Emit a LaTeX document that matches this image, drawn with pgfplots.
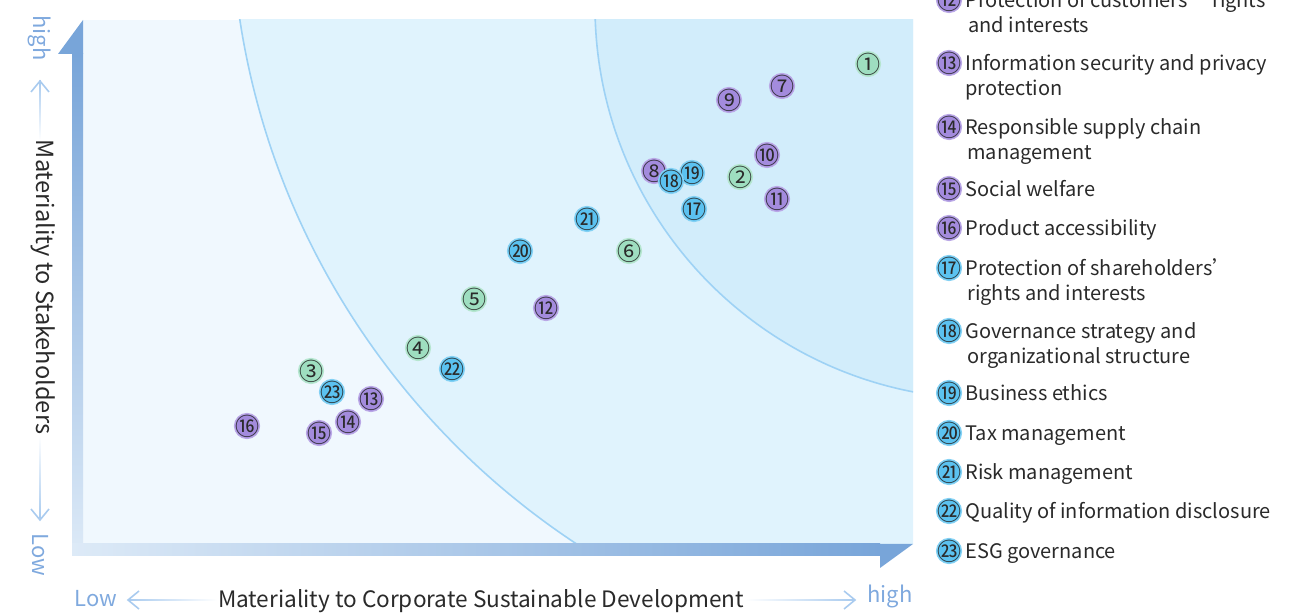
\documentclass[border=0pt]{standalone}
\usepackage{pgfplots}
\pgfplotsset{compat=1.18}
\usepackage{pgfplotstable}
\usepackage{fontspec}
\setmainfont{Noto Sans CJK SC}
\newfontfamily\cjk{Noto Sans CJK SC}
\usetikzlibrary{arrows.meta}

\definecolor{zoneA}{HTML}{F0F8FE}
\definecolor{zoneB}{HTML}{E0F3FD}
\definecolor{zoneC}{HTML}{D2EDFB}
\definecolor{arcc}{HTML}{9ED2F5}
\definecolor{barD}{HTML}{78A5D9}
\definecolor{barL}{HTML}{DDEAF7}
\definecolor{gr}{HTML}{9EDEC0}
\definecolor{pu}{HTML}{A38BDD}
\definecolor{bl}{HTML}{5BC2F0}
\definecolor{lab}{HTML}{7FA9DE}
\definecolor{arr}{HTML}{A9CBEF}
\definecolor{txt}{HTML}{2A2A2A}

\newcommand\circnum[1]{{\cjk\ifnum#1>20 \char\numexpr"3250+#1-20\relax\else\char\numexpr"245F+#1\relax\fi}}
\newcommand\apos{{\char"27}}

% pixel x, flipped pixel y (614 - py)
\pgfplotstableread{
x y n
868 550 1
740 437 2
311 243 3
418 266 4
474 315 5
629 363 6
}\green
\pgfplotstableread{
x y n
782 528 7
654 443 8
729 514 9
767 459 10
777 415 11
546 306 12
371 215 13
348 192 14
319 181 15
247 188 16
}\purple
\pgfplotstableread{
x y n
694 405 17
692 441 19
671 433 18
520 363 20
587 395 21
452 245 22
332 222 23
}\blue
\pgfplotstableread{
x y n
949 614 12
949 551 13
949 487 14
949 425 15
949 386 16
}\legpurple
\pgfplotstableread{
x y n
949 346 17
949 283 18
949 221 19
949 181 20
949 142 21
949 103 22
949 63 23
}\legblue

\newcommand\legfont{\fontsize{10}{12}\selectfont}

\begin{document}
\begin{tikzpicture}
\useasboundingbox (0,0) rectangle (655pt,307pt);
\clip (0,0) rectangle (655pt,307pt);
\begin{axis}[
  at={(41.5pt,35pt)}, anchor=south west,
  scale only axis, width=415pt, height=262pt,
  xmin=83, xmax=913, ymin=70, ymax=594,
  hide axis, clip=false,
  point meta=explicit symbolic,
  nodes near coords={\circnum{\pgfplotspointmeta}},
  nodes near coords align=center,
  every node near coord/.append style={font=\fontsize{12}{12}\selectfont, text=txt, inner sep=0pt},
  mymark/.style={only marks, mark=*, mark size=6.25pt, mark options={fill=#1, draw=#1!75!white, line width=0.6pt}},
]
% background zones
\begin{scope}
\clip (axis cs:83,70) rectangle (axis cs:913,594);
\fill[zoneA] (axis cs:83,70) rectangle (axis cs:913,594);
\fill[zoneB] (axis cs:998,711) circle[radius=383.5pt];
\draw[arcc, line width=0.8pt] (axis cs:998,711) circle[radius=383.5pt];
\fill[zoneC] (axis cs:988,608) circle[radius=196.5pt];
\draw[arcc, line width=0.8pt] (axis cs:988,608) circle[radius=196.5pt];
\end{scope}
% axis bars
\shade[top color=barD, bottom color=barL] (axis cs:72,58) rectangle (axis cs:83,560);
\fill[barD] (axis cs:83,594) -- (axis cs:58,560) -- (axis cs:83,560) -- cycle;
\shade[left color=barL, right color=barD] (axis cs:72,58) rectangle (axis cs:880,70);
\fill[barD] (axis cs:880,70) -- (axis cs:913,70) -- (axis cs:880,46) -- cycle;

% data points
\addplot[mymark=gr] table[x=x, y=y, meta=n] {\green};
\addplot[mymark=pu] table[x=x, y=y, meta=n] {\purple};
\addplot[mymark=bl] table[x=x, y=y, meta=n] {\blue};
% legend markers
\addplot[mymark=pu] table[x=x, y=y, meta=n] {\legpurple};
\addplot[mymark=bl] table[x=x, y=y, meta=n] {\legblue};

% legend text
\begin{scope}[every node/.style={anchor=base west, inner sep=0pt, font=\legfont, text=txt}]
\node at (axis cs:965,606) {Protection of customers\apos{} rights};
\node at (axis cs:968,581) {and interests};
\node at (axis cs:965,543) {Information security and privacy};
\node at (axis cs:965,518) {protection};
\node at (axis cs:965,479) {Responsible supply chain};
\node at (axis cs:967,454) {management};
\node at (axis cs:965,417) {Social welfare};
\node at (axis cs:965,378) {Product accessibility};
\node at (axis cs:965,338) {Protection of shareholders\apos};
\node at (axis cs:967,313) {rights and interests};
\node at (axis cs:965,275) {Governance strategy and};
\node at (axis cs:967,250) {organizational structure};
\node at (axis cs:965,213) {Business ethics};
\node at (axis cs:965,173) {Tax management};
\node at (axis cs:965,134) {Risk management};
\node at (axis cs:965,95) {Quality of information disclosure};
\node at (axis cs:965,55) {ESG governance};
\end{scope}

% vertical title
\node[rotate=-90, font=\fontsize{11.8}{13}\selectfont, text=txt] at (axis cs:43,327) {Materiality to Stakeholders};
\node[rotate=-90, font=\fontsize{11}{13}\selectfont, text=lab] at (axis cs:40,576) {high};
\node[rotate=-90, font=\fontsize{11}{13}\selectfont, text=lab] at (axis cs:40,59) {Low};
\shade[top color=arr, bottom color=white] (axis cs:39.5,474) rectangle (axis cs:41,533);
\draw[arr, line width=0.8pt] (axis cs:31,522) -- (axis cs:40,533) -- (axis cs:49,522);
\shade[top color=white, bottom color=arr] (axis cs:39.5,95) rectangle (axis cs:41,179);
\draw[arr, line width=0.8pt] (axis cs:31,105) -- (axis cs:40,94) -- (axis cs:49,105);

% horizontal title
\node[font=\fontsize{11.3}{13}\selectfont, text=txt] at (axis cs:481,13) {Materiality to Corporate Sustainable Development};
\node[font=\fontsize{11}{13}\selectfont, text=lab] at (axis cs:96,15) {Low};
\node[font=\fontsize{11}{13}\selectfont, text=lab] at (axis cs:890,18) {high};
\shade[left color=arr, right color=white] (axis cs:128,13.3) rectangle (axis cs:217,14.8);
\draw[arr, line width=0.8pt] (axis cs:139,23) -- (axis cs:128,14) -- (axis cs:139,5);
\shade[left color=white, right color=arr] (axis cs:745,13.3) rectangle (axis cs:855,14.8);
\draw[arr, line width=0.8pt] (axis cs:844,23) -- (axis cs:855,14) -- (axis cs:844,5);
\end{axis}
\end{tikzpicture}
\end{document}
